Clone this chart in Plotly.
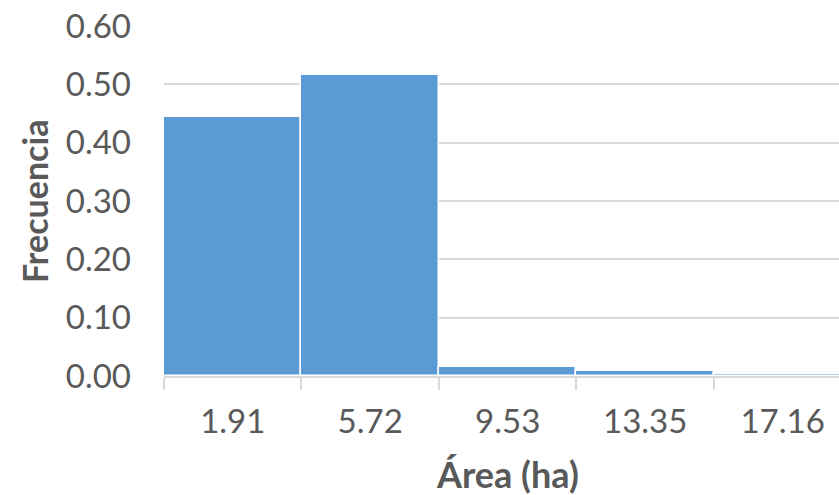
import plotly.graph_objects as go

# Relative frequency of plot area classes (class marks in hectares)
area_classes = ["1.91", "5.72", "9.53", "13.35", "17.16"]
frequencies = [0.444, 0.516, 0.016, 0.009, 0.003]
y_ticks = [0.0, 0.1, 0.2, 0.3, 0.4, 0.5, 0.6]

BAR_BLUE = "#5B9BD5"
GRID = "#D9D9D9"
TEXT = "#595959"
FONT = "Lato, Open Sans, sans-serif"

fig = go.Figure(
    go.Bar(
        x=area_classes,
        y=frequencies,
        marker=dict(color=BAR_BLUE, line=dict(color="white", width=1.5)),
    )
)

fig.update_layout(
    width=839,
    height=495,
    margin=dict(l=164, r=0, t=26, b=119),
    paper_bgcolor="white",
    plot_bgcolor="white",
    bargap=0,
    showlegend=False,
    font=dict(family=FONT, color=TEXT, size=33),
)

fig.update_xaxes(
    type="category",
    range=[-0.5, 4.41],
    showgrid=False,
    showline=True,
    linecolor=GRID,
    linewidth=1.5,
    ticks="outside",
    tickson="boundaries",
    ticklen=12,
    tickcolor=GRID,
    tickwidth=1.5,
    ticklabelstandoff=16,
    tickfont=dict(size=33, color=TEXT, family=FONT),
)

fig.update_yaxes(
    range=[0, 0.6],
    tickvals=y_ticks,
    tickformat=".2f",
    showgrid=True,
    gridcolor=GRID,
    gridwidth=1.5,
    zeroline=False,
    showline=False,
    ticks="",
    ticklabelstandoff=32,
    tickfont=dict(size=33, color=TEXT, family=FONT),
)

# Vertical axis title
fig.add_annotation(
    text="<b>Frecuencia</b>",
    xref="paper",
    yref="paper",
    x=-0.1926,
    y=0.5,
    xanchor="center",
    yanchor="middle",
    textangle=-90,
    showarrow=False,
    font=dict(size=34, color=TEXT, family=FONT),
)

# Horizontal axis title, centred under the full category span
fig.add_annotation(
    text="<b>Área (ha)</b>",
    xref="paper",
    yref="paper",
    x=0.5096,
    y=-0.21,
    xanchor="center",
    yanchor="top",
    showarrow=False,
    font=dict(size=36, color=TEXT, family=FONT),
)

fig.write_html("out.html")
